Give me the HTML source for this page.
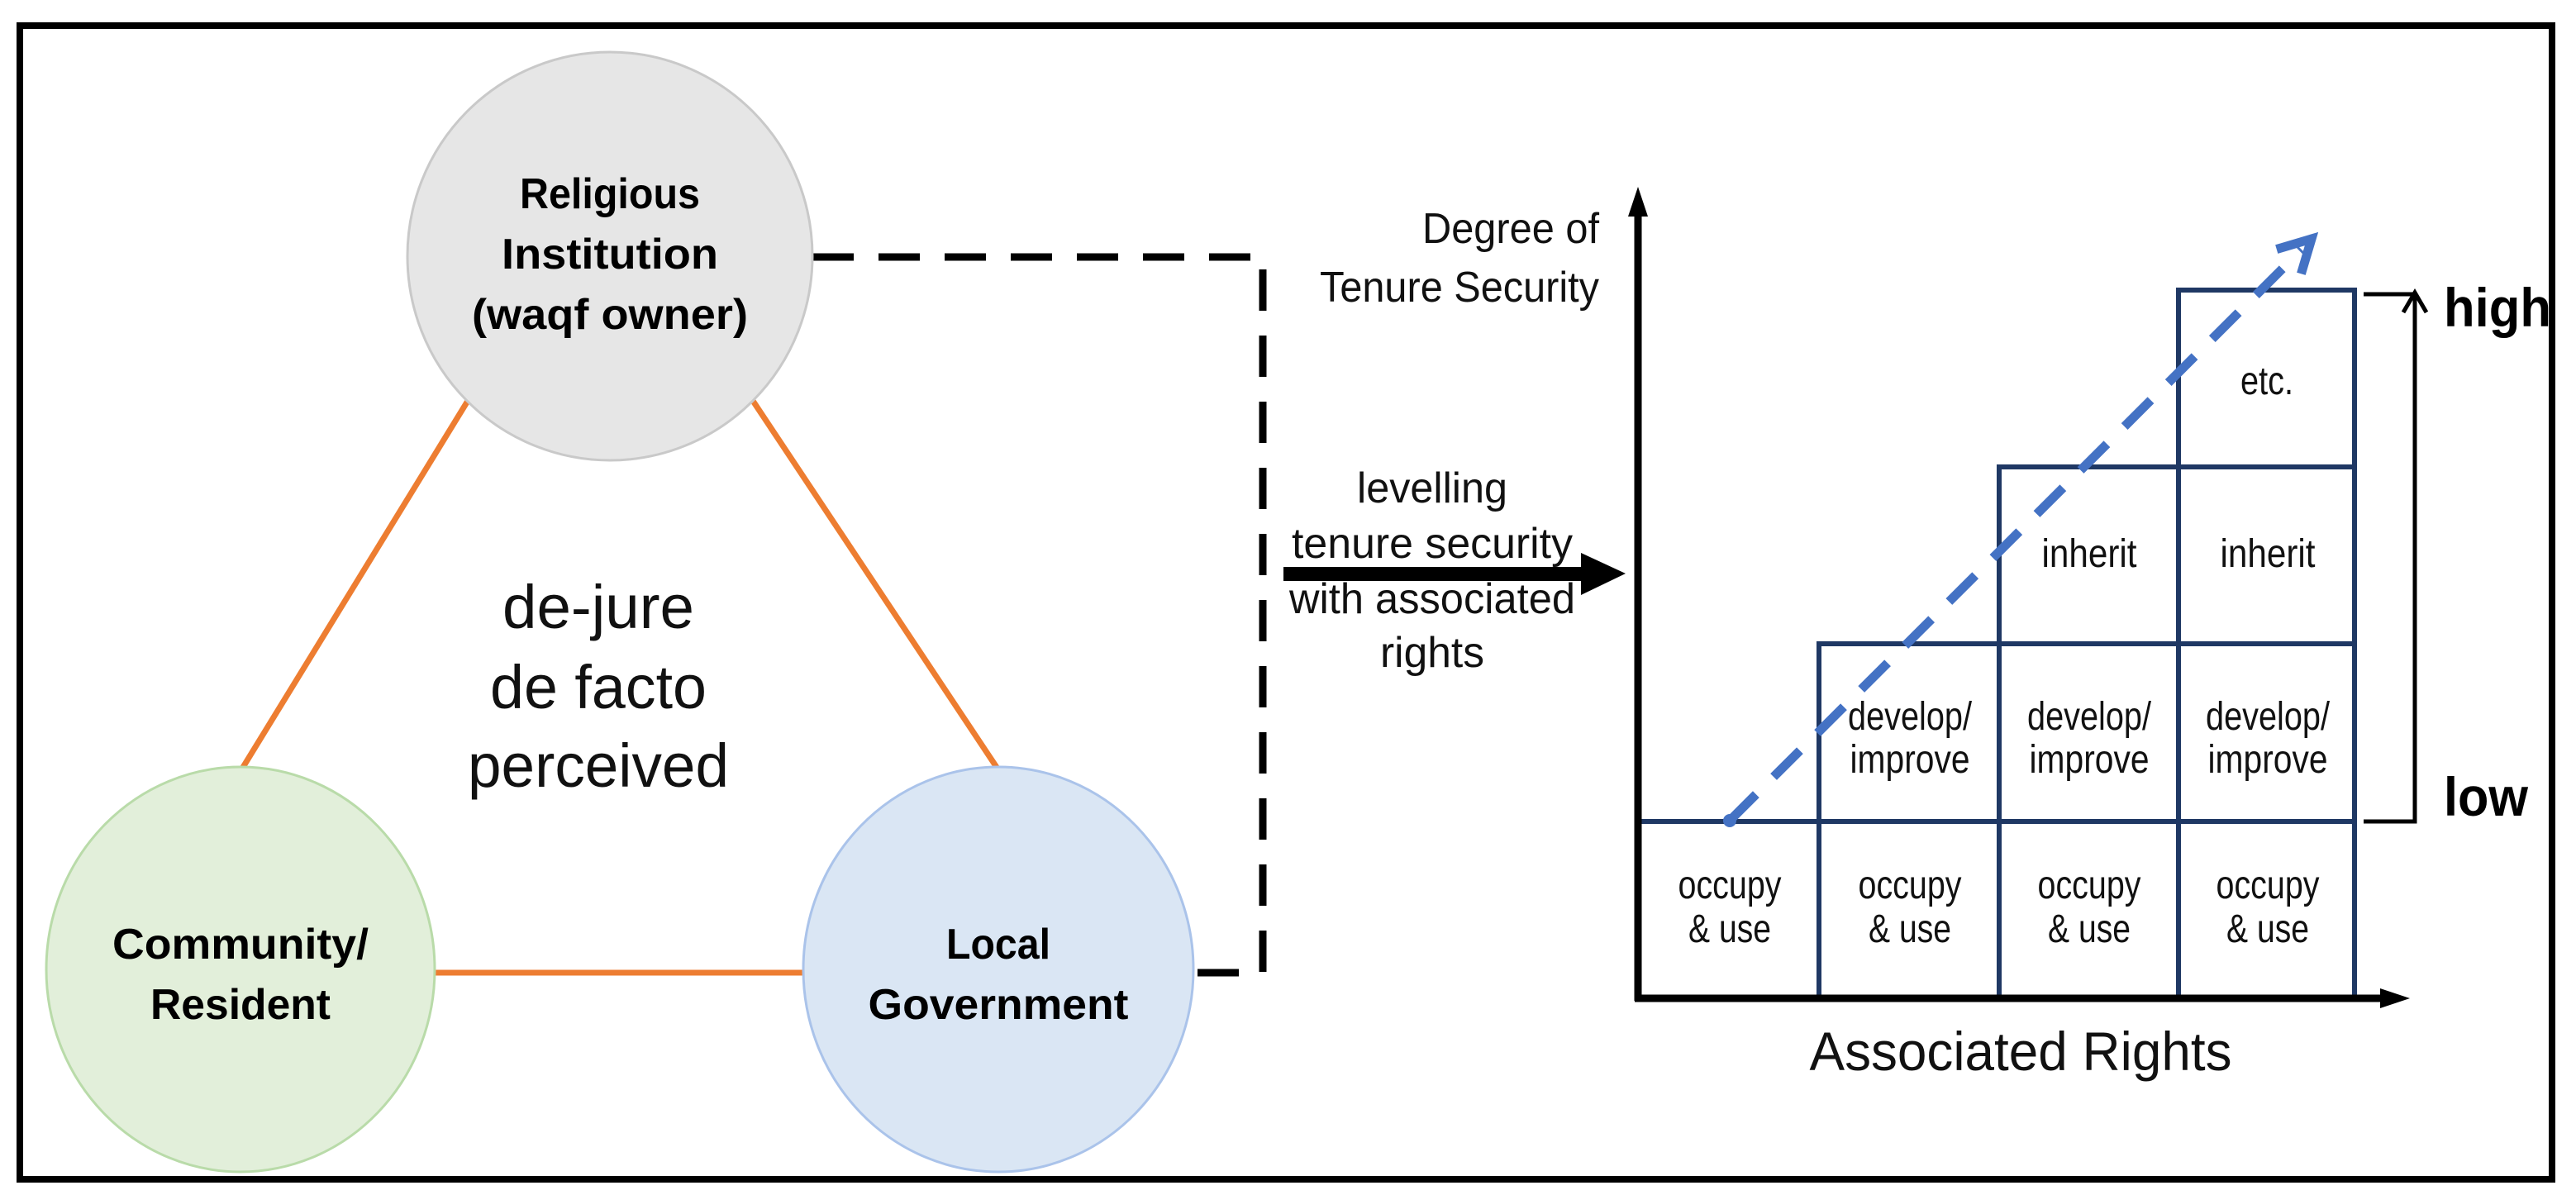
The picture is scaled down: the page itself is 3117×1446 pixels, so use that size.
<!DOCTYPE html>
<html><head><meta charset="utf-8"><style>html,body{margin:0;padding:0;background:#fff}svg{display:block}</style></head>
<body>
<svg width="3117" height="1446" viewBox="0 0 3117 1446" xmlns="http://www.w3.org/2000/svg" font-family="Liberation Sans, sans-serif">
<rect x="0" y="0" width="3117" height="1446" fill="#fff"/>
<rect x="24" y="31" width="3064" height="1396" fill="none" stroke="#000" stroke-width="8"/>
<g stroke="#ED7D31" stroke-width="7">
<line x1="566" y1="485" x2="293" y2="930"/>
<line x1="911" y1="485" x2="1207" y2="930"/>
<line x1="525" y1="1177" x2="972" y2="1177"/>
</g>
<path d="M983 311 H1528 V1177 H1444" fill="none" stroke="#000" stroke-width="9" stroke-dasharray="50 30"/>
<ellipse cx="738" cy="310" rx="245" ry="247" fill="#e6e6e6" stroke="#c9c9c9" stroke-width="3"/>
<ellipse cx="291" cy="1173" rx="235" ry="245" fill="#e2efda" stroke="#b9dba9" stroke-width="3"/>
<ellipse cx="1208" cy="1173" rx="236" ry="245" fill="#dae6f4" stroke="#aac3ea" stroke-width="3"/>
<g font-weight="bold" font-size="52" text-anchor="middle" fill="#000">
<text x="738" y="252" textLength="218" lengthAdjust="spacingAndGlyphs">Religious</text>
<text x="738" y="325" textLength="262" lengthAdjust="spacingAndGlyphs">Institution</text>
<text x="738" y="398" textLength="334" lengthAdjust="spacingAndGlyphs">(waqf owner)</text>
<text x="291" y="1160" textLength="310" lengthAdjust="spacingAndGlyphs">Community/</text>
<text x="291" y="1233" textLength="218" lengthAdjust="spacingAndGlyphs">Resident</text>
<text x="1208" y="1160" textLength="126" lengthAdjust="spacingAndGlyphs">Local</text>
<text x="1208" y="1233" textLength="315" lengthAdjust="spacingAndGlyphs">Government</text>
</g>
<g font-size="74" text-anchor="middle" fill="#111">
<text x="724" y="760" textLength="232" lengthAdjust="spacingAndGlyphs">de-jure</text>
<text x="724" y="857" textLength="262" lengthAdjust="spacingAndGlyphs">de facto</text>
<text x="724" y="952" textLength="316" lengthAdjust="spacingAndGlyphs">perceived</text>
</g>
<g font-size="52" text-anchor="middle" fill="#111">
<text x="1733" y="608" textLength="182" lengthAdjust="spacingAndGlyphs">levelling</text>
<text x="1733" y="675" textLength="340" lengthAdjust="spacingAndGlyphs">tenure security</text>
<text x="1733" y="742" textLength="346" lengthAdjust="spacingAndGlyphs">with associated</text>
<text x="1733" y="807" textLength="126" lengthAdjust="spacingAndGlyphs">rights</text>
</g>
<rect x="1553" y="686" width="365" height="17" fill="#000"/>
<polygon points="1913,669 1967,694 1913,720" fill="#000"/>
<g font-size="52" text-anchor="end" fill="#111">
<text x="1935" y="294" textLength="214" lengthAdjust="spacingAndGlyphs">Degree of</text>
<text x="1935" y="365" textLength="338" lengthAdjust="spacingAndGlyphs">Tenure Security</text>
</g>
<g fill="none" stroke="#1f3864" stroke-width="6">
<rect x="1982" y="994" width="219" height="213"/>
<rect x="2201" y="994" width="218" height="213"/>
<rect x="2419" y="994" width="217" height="213"/>
<rect x="2636" y="994" width="213" height="213"/>
<rect x="2201" y="779" width="218" height="215"/>
<rect x="2419" y="779" width="217" height="215"/>
<rect x="2636" y="779" width="213" height="215"/>
<rect x="2419" y="565" width="217" height="214"/>
<rect x="2636" y="565" width="213" height="214"/>
<rect x="2636" y="351" width="213" height="214"/>
</g>
<line x1="1982" y1="250" x2="1982" y2="1211" stroke="#000" stroke-width="9"/>
<polygon points="1982,226 1970,262 1994,262" fill="#000"/>
<line x1="1978" y1="1208" x2="2890" y2="1208" stroke="#000" stroke-width="9"/>
<polygon points="2916,1208 2880,1196 2880,1220" fill="#000"/>
<g font-size="48" text-anchor="middle" fill="#111">
<g><text x="2093" y="1087" textLength="125" lengthAdjust="spacingAndGlyphs">occupy</text><text x="2093" y="1140" textLength="100" lengthAdjust="spacingAndGlyphs">&amp; use</text></g>
<g><text x="2311" y="1087" textLength="125" lengthAdjust="spacingAndGlyphs">occupy</text><text x="2311" y="1140" textLength="100" lengthAdjust="spacingAndGlyphs">&amp; use</text></g>
<g><text x="2528" y="1087" textLength="125" lengthAdjust="spacingAndGlyphs">occupy</text><text x="2528" y="1140" textLength="100" lengthAdjust="spacingAndGlyphs">&amp; use</text></g>
<g><text x="2744" y="1087" textLength="125" lengthAdjust="spacingAndGlyphs">occupy</text><text x="2744" y="1140" textLength="100" lengthAdjust="spacingAndGlyphs">&amp; use</text></g>
<g><text x="2311" y="883" textLength="150" lengthAdjust="spacingAndGlyphs">develop/</text><text x="2311" y="935" textLength="145" lengthAdjust="spacingAndGlyphs">improve</text></g>
<g><text x="2528" y="883" textLength="150" lengthAdjust="spacingAndGlyphs">develop/</text><text x="2528" y="935" textLength="145" lengthAdjust="spacingAndGlyphs">improve</text></g>
<g><text x="2744" y="883" textLength="150" lengthAdjust="spacingAndGlyphs">develop/</text><text x="2744" y="935" textLength="145" lengthAdjust="spacingAndGlyphs">improve</text></g>
<text x="2528" y="686" textLength="115" lengthAdjust="spacingAndGlyphs">inherit</text>
<text x="2744" y="686" textLength="115" lengthAdjust="spacingAndGlyphs">inherit</text>
<text x="2743" y="477" textLength="64" lengthAdjust="spacingAndGlyphs">etc.</text>
</g>
<text x="2445" y="1295" font-size="66" text-anchor="middle" fill="#111" textLength="511" lengthAdjust="spacingAndGlyphs">Associated Rights</text>
<path d="M2860 356 H2922 V994 H2860" fill="none" stroke="#000" stroke-width="5"/>
<polyline points="2908,378 2922,354 2936,378" fill="none" stroke="#000" stroke-width="5"/>
<g font-weight="bold" font-size="66" fill="#000">
<text x="2957" y="395" textLength="130" lengthAdjust="spacingAndGlyphs">high</text>
<text x="2957" y="987" textLength="102" lengthAdjust="spacingAndGlyphs">low</text>
</g>
<line x1="2093" y1="993" x2="2785" y2="302" stroke="#4472C4" stroke-width="11" stroke-dasharray="45 30"/>
<circle cx="2093" cy="993" r="8" fill="#4472C4"/>
<polyline points="2760,300 2797,289 2786,326" fill="none" stroke="#4472C4" stroke-width="11" stroke-linecap="square"/>
</svg>
</body></html>
